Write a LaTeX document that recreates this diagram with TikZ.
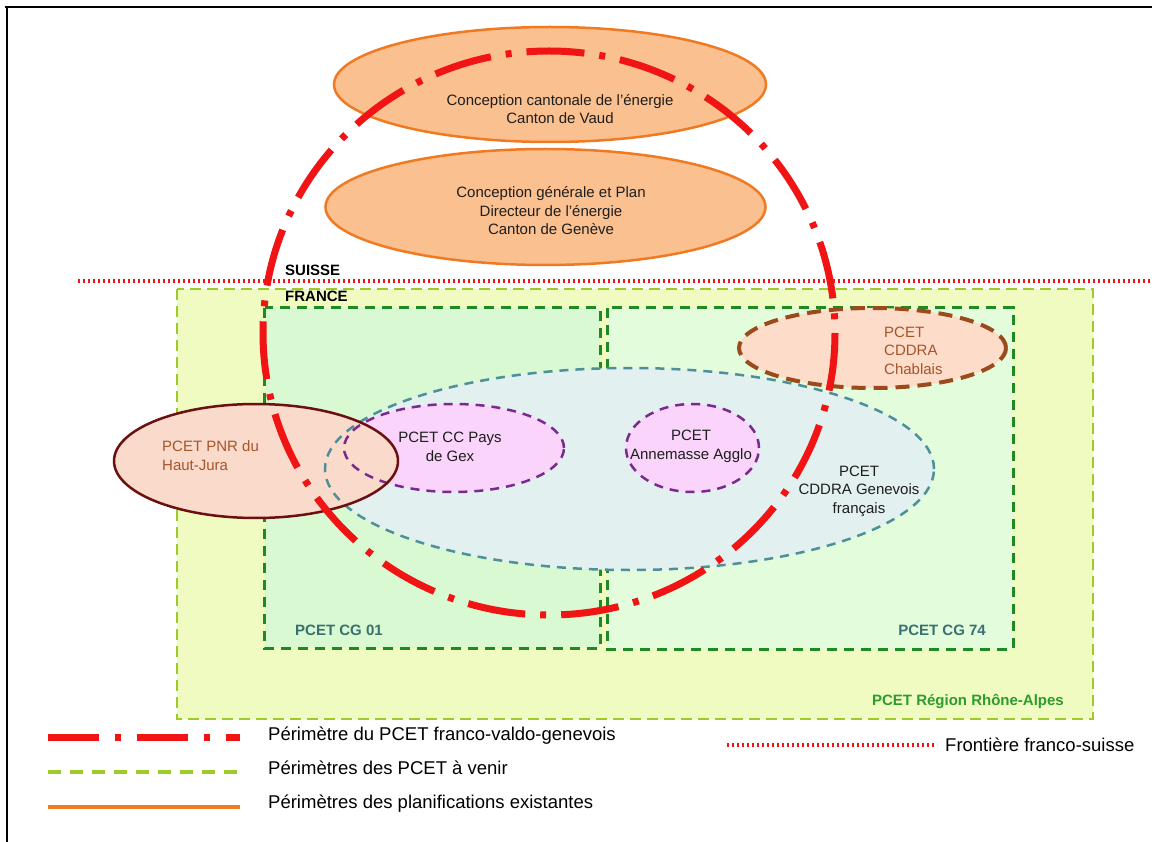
\documentclass[tikz,border=0pt]{standalone}
\usepackage{fontspec}
\setmainfont{Liberation Sans}
\usetikzlibrary{shapes.geometric}
\definecolor{orfill}{HTML}{FBC08F}
\definecolor{ordraw}{HTML}{F07A22}
\definecolor{regfill}{HTML}{F0FBC2}
\definecolor{regdraw}{HTML}{9CCB2A}
\definecolor{cgafill}{HTML}{D8F9D2}
\definecolor{cgbfill}{HTML}{E2FCDC}
\definecolor{cgdraw}{HTML}{1F8A1F}
\definecolor{tealfill}{HTML}{E2F0F0}
\definecolor{tealdraw}{HTML}{4E8F99}
\definecolor{pinkfill}{HTML}{FAD4FA}
\definecolor{purpdraw}{HTML}{7A2A8C}
\definecolor{chabfill}{HTML}{FDDCC9}
\definecolor{chabdraw}{HTML}{9B4A1C}
\definecolor{hjfill}{HTML}{FADACA}
\definecolor{hjdraw}{HTML}{6B1010}
\definecolor{redline}{HTML}{F01414}
\definecolor{browntext}{HTML}{A5552B}
\definecolor{cglabel}{HTML}{3A7070}
\definecolor{reglabel}{HTML}{2E9B2E}
\definecolor{txt}{HTML}{1E1E1E}
\tikzset{
  ell/.style={ellipse, inner sep=0pt, outer sep=0pt},
  lbl/.style={font=\fontsize{15}{18.5}\selectfont, text=txt, align=center, inner sep=0pt},
  blbl/.style={font=\fontsize{15}{18}\selectfont\bfseries, inner sep=0pt},
  leg/.style={font=\fontsize{18.5}{21}\selectfont, text=black, inner sep=0pt, anchor=west},
  orangeell/.style={ell, fill=orfill, draw=ordraw, line width=2.5pt},
  regdash/.style={draw=regdraw, line width=2.5pt, dash pattern=on 11pt off 6pt},
  cgdash/.style={draw=cgdraw, line width=3pt, dash pattern=on 10pt off 7pt},
  tealdash/.style={draw=tealdraw, line width=2.5pt, dash pattern=on 9pt off 7pt},
  purpdash/.style={draw=purpdraw, line width=2.5pt, dash pattern=on 9pt off 7pt},
  chabdash/.style={draw=chabdraw, line width=4pt, dash pattern=on 14pt off 8pt},
  reddashdot/.style={draw=redline, line width=7pt, dash pattern=on 58pt off 15pt on 6pt off 15pt},
  reddots/.style={draw=redline, line width=3.5pt, dash pattern=on 2pt off 3pt},
}
\begin{document}
\begin{tikzpicture}[x=1pt,y=-1pt]
\useasboundingbox (0,0) rectangle (1152,842);
% frame
\draw[line width=2pt] (5,7) -- (1152,7);
\draw[line width=2pt] (7,6) -- (7,842);

% orange ellipses (Switzerland)
\node[orangeell, minimum width=432pt, minimum height=115pt] (vaud) at (550,84.5) {};
\node[lbl] (vaudt) at (560,109) {Conception cantonale de l'énergie\\Canton de Vaud};
\node[orangeell, minimum width=440pt, minimum height=116pt] (geneve) at (545.5,207) {};
\node[lbl] (genevet) at (551,211) {Conception générale et Plan\\Directeur de l’énergie\\Canton de Genève};

% region
\node[draw=none, fill=regfill, minimum width=916pt, minimum height=430pt, inner sep=0pt] (region) at (635,504) {};
\draw[regdash] (region.north west) rectangle (region.south east);
% CG rectangles
\node[fill=cgafill, minimum width=335pt, minimum height=340pt, inner sep=0pt] (cg01) at (432.5,478) {};
\node[fill=cgbfill, minimum width=405pt, minimum height=341pt, inner sep=0pt] (cg74) at (810.5,478.5) {};
\draw[cgdash] (cg01.north west) rectangle (cg01.south east);
\draw[cgdash] (cg74.north west) rectangle (cg74.south east);

% fills of overlapping ellipses
\node[ell, fill=tealfill, minimum width=609pt, minimum height=202pt] (gvf) at (629.5,469) {};
\node[ell, fill=pinkfill, minimum width=220pt, minimum height=88pt] (gexf) at (454,448) {};
\node[ell, fill=pinkfill, minimum width=133pt, minimum height=88pt] (annf) at (692.5,448) {};
\node[ell, fill=hjfill, minimum width=284pt, minimum height=114pt] (hjf) at (256,461) {};
\node[ell, fill=chabfill, minimum width=267pt, minimum height=80pt] (chabf) at (872.5,348) {};
% borders
\node[ell, tealdash, minimum width=609pt, minimum height=202pt] (gvb) at (629.5,469) {};
\node[ell, purpdash, minimum width=220pt, minimum height=88pt] (gexb) at (454,448) {};
\node[ell, purpdash, minimum width=133pt, minimum height=88pt] (annb) at (692.5,448) {};
\node[ell, draw=hjdraw, line width=2.5pt, minimum width=284pt, minimum height=114pt] (hjb) at (256,461) {};
\node[ell, chabdash, minimum width=267pt, minimum height=80pt] (chabb) at (872.5,348) {};

% texts
\node[lbl] (gext) at (450,447) {PCET CC Pays\\de Gex};
\node[lbl] (annt) at (691,446.5) {PCET\\Annemasse Agglo};
\node[lbl] (gvt) at (859,491) {PCET\\CDDRA Genevois\\français};
\node[lbl, text=browntext, align=left, anchor=west] (hjt) at (162,455.5) {PCET PNR du\\Haut-Jura};
\node[lbl, text=browntext, align=left, anchor=west] (chabt) at (884,350.5) {PCET\\CDDRA\\Chablais};
\node[blbl, text=cglabel, anchor=west] (cg01t) at (295,630) {PCET CG 01};
\node[blbl, text=cglabel, anchor=east] (cg74t) at (986,630) {PCET CG 74};
\node[blbl, text=reglabel, anchor=east] (regt) at (1064,701) {PCET Région Rhône-Alpes};

% border line
\coordinate (bordA) at (78,281);
\coordinate (bordB) at (1152,281);
\draw[reddots] (bordA) -- (bordB);
\node[blbl, anchor=west] (suisse) at (285,270) {SUISSE};
\node[blbl, anchor=west] (france) at (285,296) {FRANCE};

% PCET franco-valdo-genevois perimeter
\node[ell, minimum width=572pt, minimum height=564pt] (fvg) at (549,333) {};
\draw[reddashdot] (fvg.center) ellipse [x radius=286, y radius=282];

% legend
\coordinate (l1a) at (48,737); \coordinate (l1b) at (240,737);
\coordinate (l2a) at (48,772); \coordinate (l2b) at (240,772);
\coordinate (l3a) at (48,807); \coordinate (l3b) at (240,807);
\coordinate (l4a) at (727,745); \coordinate (l4b) at (937,745);
\draw[draw=redline, line width=7pt, dash pattern=on 51pt off 16pt on 6pt off 16pt] (l1a) -- (l1b);
\draw[draw=regdraw, line width=3.5pt, dash pattern=on 13pt off 9pt] (l2a) -- (l2b);
\draw[draw=ordraw, line width=3.5pt] (l3a) -- (l3b);
\draw[reddots] (l4a) -- (l4b);
\node[leg] (t1) at (268,736) {Périmètre du PCET franco-valdo-genevois};
\node[leg] (t2) at (268,768) {Périmètres des PCET à venir};
\node[leg] (t3) at (268,804) {Périmètres des planifications existantes};
\node[leg] (t4) at (945,745) {Frontière franco-suisse};
\end{tikzpicture}
\end{document}
